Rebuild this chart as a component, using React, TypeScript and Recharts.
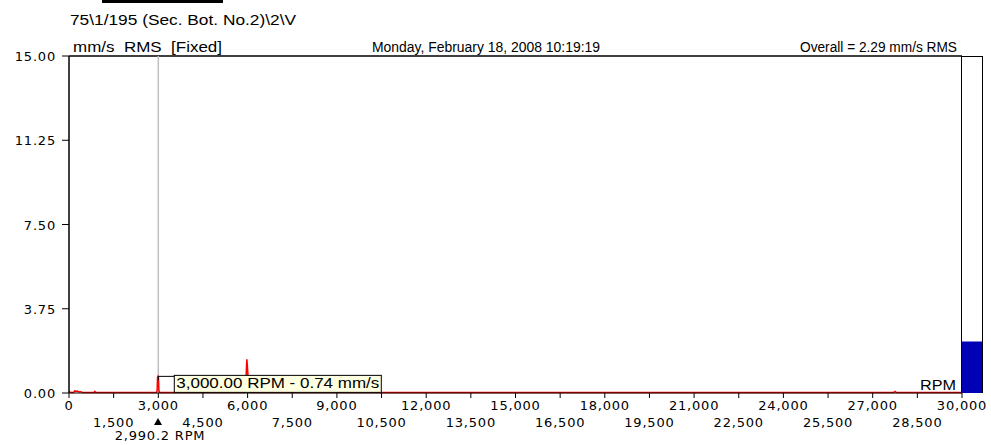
import {
  Bar,
  BarChart,
  ComposedChart,
  Line,
  ReferenceDot,
  ReferenceLine,
  XAxis,
  YAxis,
} from "recharts";

const rpm = [
  0, 40, 80, 150, 200, 240, 280, 330, 380, 440, 500, 840, 870, 900, 2940, 2960,
  2975, 2990, 3005, 3020, 3040, 3080, 5910, 5940, 5960, 5975, 5990, 6005, 6020,
  6040, 6080, 27700, 27750, 27800, 30000,
];
const amp = [
  0.06, 0.04, 0.02, 0.02, 0.1, 0.07, 0.09, 0.05, 0.06, 0.03, 0.02, 0.02, 0.07,
  0.02, 0.02, 0.1, 0.7, 0.74, 0.68, 0.12, 0.03, 0.02, 0.02, 0.3, 1.1, 1.5, 1.25,
  0.95, 0.4, 0.05, 0.02, 0.02, 0.07, 0.02, 0.02,
];
const xTicks = [
  0, 1500, 3000, 4500, 6000, 7500, 9000, 10500, 12000, 13500, 15000, 16500,
  18000, 19500, 21000, 22500, 24000, 25500, 27000, 28500, 30000,
];
const yTicks = [0, 3.75, 7.5, 11.25, 15];
const overall = [{ name: "Overall", value: 2.29 }];
const cursorRpm = 3000;
const cursorAmp = 0.74;
const markerRpm = 2990.2;

const spectrum = rpm.map((r, i) => ({ rpm: r, amp: amp[i] }));

const FONT = "'DejaVu Sans', Verdana, sans-serif";
const LFONT = "'Liberation Sans', Arial, sans-serif";

function XTick(props: any) {
  const { x, y, payload } = props;
  const v = payload.value as number;
  const row = Math.round(v / 1500) % 2;
  return (
    <text
      x={x}
      y={y + (row === 0 ? 10 : 27)}
      textAnchor="middle"
      fontSize={13}
      letterSpacing={0.8}
      fontFamily={FONT}
      fill="#000"
    >
      {v.toLocaleString("en-US")}
    </text>
  );
}

function YTick(props: any) {
  const { x, y, payload } = props;
  return (
    <text
      x={x}
      y={y + 5}
      textAnchor="end"
      fontSize={13}
      letterSpacing={0.8}
      fontFamily={FONT}
      fill="#000"
    >
      {(payload.value as number).toFixed(2)}
    </text>
  );
}

function CursorBox(props: any) {
  const { cx, cy } = props;
  return (
    <g>
      <path d={`M${cx},${cy + 4} V${cy} H${cx + 16}`} stroke="#000" fill="none" />
      <rect x={cx + 16} y={cy - 1} width={207} height={17} fill="#ffffe1" stroke="#000" />
      <text
        x={cx + 18}
        y={cy + 12}
        fontSize={14}
        fontFamily={LFONT}
        textLength={203}
        lengthAdjust="spacingAndGlyphs"
        fill="#000"
      >
        3,000.00 RPM - 0.74 mm/s
      </text>
    </g>
  );
}

function Marker(props: any) {
  const { cx, cy } = props;
  return (
    <g>
      <path d={`M${cx - 4},${cy + 32} L${cx},${cy + 25} L${cx + 4},${cy + 32} Z`} fill="#000" />
      <text
        x={cx + 2}
        y={cy + 47}
        textAnchor="middle"
        fontSize={13}
        letterSpacing={0.8}
        fontFamily={FONT}
        fill="#000"
      >
        2,990.2 RPM
      </text>
    </g>
  );
}

function Label({ x, y, w, children }: { x: number; y: number; w: number; children: string }) {
  return (
    <text
      x={x}
      y={y}
      fontSize={14}
      fontFamily={LFONT}
      textLength={w}
      lengthAdjust="spacingAndGlyphs"
      fill="#000"
      style={{ whiteSpace: "pre" }}
    >
      {children}
    </text>
  );
}

export default function App() {
  return (
    <div
      style={{
        position: "absolute",
        left: 0,
        top: 0,
        width: 991,
        height: 445,
        background: "#fff",
        overflow: "hidden",
      }}
    >
      <svg width={991} height={445} style={{ position: "absolute", left: 0, top: 0 }}>
        <rect x={102} y={0} width={121} height={3} fill="#000" />
        <Label x={70} y={25} w={226}>{"75\\1/195 (Sec. Bot. No.2)\\2\\V"}</Label>
        <Label x={73} y={52} w={149}>{"mm/s  RMS  [Fixed]"}</Label>
        <Label x={372} y={52} w={228}>{"Monday, February 18, 2008 10:19:19"}</Label>
        <Label x={800} y={52} w={157}>{"Overall = 2.29 mm/s RMS"}</Label>
        <Label x={920} y={390} w={36}>{"RPM"}</Label>
      </svg>

      <div style={{ position: "absolute", left: 0, top: 0 }}>
        <ComposedChart
          width={991}
          height={445}
          data={spectrum}
          margin={{ top: 56, right: 29, bottom: 12, left: 8 }}
        >
          <XAxis
            dataKey="rpm"
            type="number"
            domain={[0, 30000]}
            ticks={xTicks}
            interval={0}
            tick={<XTick />}
            tickSize={5}
            height={40}
            axisLine={{ stroke: "#000" }}
            tickLine={{ stroke: "#000" }}
          />
          <YAxis
            type="number"
            domain={[0, 15]}
            ticks={yTicks}
            interval={0}
            width={61}
            tickSize={7}
            tickMargin={6}
            tick={<YTick />}
            axisLine={{ stroke: "#000", strokeWidth: 1.5 }}
            tickLine={{ stroke: "#000" }}
          />
          <ReferenceLine y={15} stroke="#000" strokeWidth={1.5} />
          <ReferenceLine x={cursorRpm} stroke="#c0c0c0" strokeWidth={1.5} />
          <Line
            dataKey="amp"
            type="linear"
            stroke="#ff0000"
            strokeWidth={1.5}
            dot={false}
            isAnimationActive={false}
          />
          <ReferenceDot x={cursorRpm} y={cursorAmp} ifOverflow="visible" shape={<CursorBox />} />
          <ReferenceDot x={markerRpm} y={0} ifOverflow="visible" shape={<Marker />} />
        </ComposedChart>
      </div>

      <div
        style={{
          position: "absolute",
          left: 961,
          top: 56,
          width: 20,
          height: 336,
          border: "1.5px solid #000",
          borderBottom: "none",
        }}
      />
      <div style={{ position: "absolute", left: 962, top: 56 }}>
        <BarChart
          width={20}
          height={337}
          data={overall}
          margin={{ top: 0, right: 0, bottom: 0, left: 0 }}
          barCategoryGap={0}
        >
          <XAxis dataKey="name" hide />
          <YAxis domain={[0, 15]} hide />
          <Bar dataKey="value" fill="#0000b4" isAnimationActive={false} />
        </BarChart>
      </div>
    </div>
  );
}
